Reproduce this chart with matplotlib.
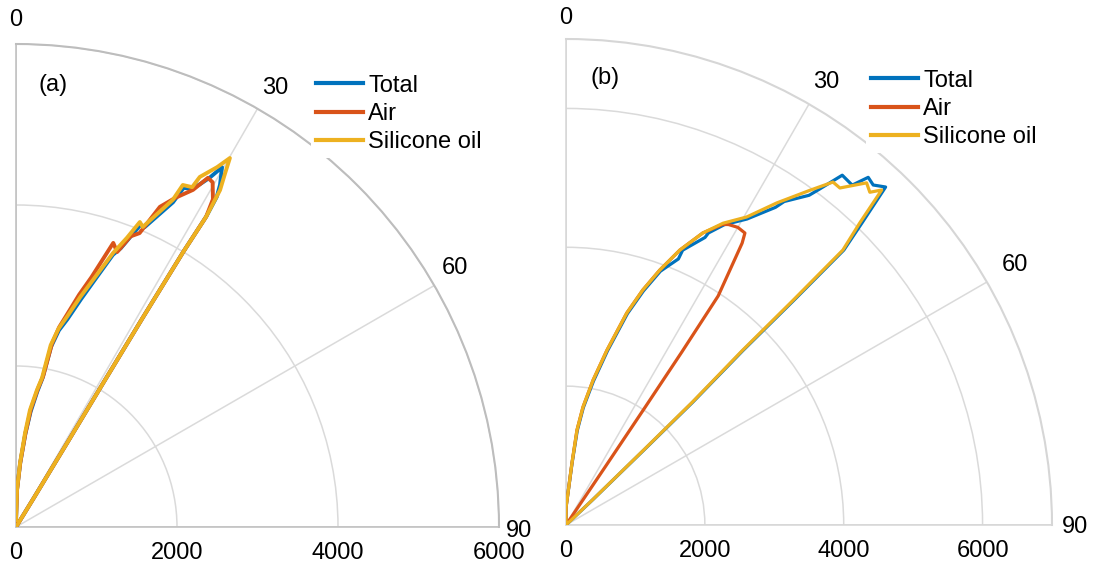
import numpy as np
import matplotlib
matplotlib.use("Agg")
from matplotlib import pyplot as plt

plt.rcParams['font.family'] = ['Liberation Sans', 'DejaVu Sans']

# ---- panel (a): angle in degrees, magnitude ----
a_total_th = [0, 1.5, 3.7, 5.7, 7.2, 8.9, 10.1, 11.0, 12.3, 13.9, 15.9, 17.5, 19.6, 20.6, 22.4, 23.2,
              25.8, 26.3, 27.4, 28.2, 29.0, 29.8, 30.8, 31.3, 31.5, 31.3, 31.2, 31.2, 31.3, 31.5, 32.0]
a_total_r = [80, 460, 790, 1160, 1440, 1700, 1880, 2280, 2500, 2660, 2940, 3190, 3590, 3700, 4060, 4050,
             4480, 4700, 4730, 4830, 4960, 5150, 4950, 4800, 4522, 4000, 3030, 2030, 1220, 430, 0]

a_air_th = [0, 1.6, 3.8, 5.8, 7.2, 9.0, 10.2, 11.1, 12.2, 13.4, 15.2, 16.8, 18.9, 20.2, 21.5, 22.8,
            24.2, 25.8, 27.7, 28.8, 29.7, 31.0, 31.5, 31.3, 31.2, 31.2, 31.3, 31.5, 32.0]
a_air_r = [80, 460, 800, 1180, 1480, 1740, 1900, 2320, 2540, 2700, 2990, 3240, 3730, 3640, 3880, 3960,
           4360, 4540, 4730, 4950, 4930, 4750, 4522, 4000, 3030, 2030, 1220, 430, 0]

a_oil_th = [0, 1.5, 3.6, 5.5, 6.8, 8.7, 9.9, 10.8, 12.1, 13.6, 15.6, 17.3, 19.5, 21.0, 22.1, 22.9,
            25.6, 26.0, 27.4, 27.7, 29.2, 30.1, 30.6, 31.2, 31.5, 31.3, 31.2, 31.2, 31.3, 31.5, 32.0]
a_oil_r = [87, 460, 796, 1173, 1463, 1722, 1880, 2300, 2520, 2684, 2965, 3213, 3610, 3850, 4089, 4046,
           4505, 4727, 4755, 4911, 5121, 5298, 5100, 4893, 4522, 4000, 3030, 2030, 1220, 430, 0]

# ---- panel (b) ----
b_total_th = [0, 0, 5.6, 6.8, 8.4, 10.8, 13.4, 16.2, 18.3, 20.4, 22.9, 23.0, 25.8, 26.0, 27.8,
              30.6, 33.4, 34.0, 36.4, 37.0, 38.3, 40.1, 41.0, 42.1, 43.4, 44.4, 45.3, 45.4,
              45.4, 45.9, 46.1, 46.6, 47.0]
b_total_r = [0, 250, 890, 1370, 1710, 2110, 2580, 3170, 3550, 3900, 4160, 4300, 4600, 4680, 4890,
             5120, 5480, 5620, 5900, 6050, 6420, 6400, 6635, 6600, 6700, 6100, 5630, 4600,
             3580, 2540, 1550, 530, 0]

b_air_th = [0, 0, 5.5, 6.6, 8.2, 10.6, 13.2, 16.0, 18.1, 20.2, 22.5, 25.1, 27.5, 28.4, 30.0,
            31.5, 32.0, 33.6, 33.8, 33.9, 34.0, 34.0, 34.0]
b_air_r = [0, 250, 897, 1377, 1717, 2124, 2588, 3177, 3561, 3913, 4287, 4645, 4880, 4920, 4950,
           4932, 4787, 3960, 3000, 2000, 1000, 300, 0]

b_oil_th = [0, 0, 5.5, 6.6, 8.2, 10.6, 13.2, 16.0, 18.1, 20.2, 22.5, 25.1, 27.5, 30.4, 33.2,
            36.1, 37.9, 39.1, 41.3, 42.4, 43.3, 44.2, 45.2, 45.3, 45.3, 45.8, 46.0, 46.5, 47.0]
b_oil_r = [0, 250, 897, 1377, 1717, 2124, 2588, 3177, 3561, 3913, 4287, 4645, 4901, 5144, 5544,
           5968, 6260, 6255, 6560, 6490, 6630, 6070, 5620, 4600, 3580, 2540, 1550, 530, 0]

names = ["Total", "Air", "Silicone oil"]
colors = ["#0072BD", "#D95319", "#EDB120"]
r_ticks = [0, 2000, 4000, 6000]
theta_ticks = [0, 30, 60, 90]

W, H = 1099, 568
fig = plt.figure(figsize=(W / 100, H / 100), dpi=100)


def panel(ox, oy, rad_px, rmax, series, edge_col, lw, tag, tag_xy, leg_xy, lab_off):
    ax = fig.add_axes([ox / W, (H - oy) / H, rad_px / W, rad_px / H], projection='polar')
    ax.set_theta_zero_location('N')
    ax.set_theta_direction(-1)
    ax.set_thetamin(0)
    ax.set_thetamax(90)
    ax.set_rlim(0, rmax)
    ax.set_rticks([2000, 4000, 6000])
    ax.set_yticklabels([])
    ax.set_xticks(np.deg2rad(theta_ticks))
    ax.set_xticklabels([])
    ax.tick_params(length=0)
    ax.grid(color='#dadada', lw=1.1)
    for s in ax.spines.values():
        s.set_color('#d6d6d6')
        s.set_linewidth(1.1)
    ax.spines['polar'].set_color(edge_col)
    ax.spines['polar'].set_linewidth(1.5)
    ax.spines['start'].set_color(edge_col)
    ax.spines['end'].set_color(edge_col)

    lines = []
    for (th, r), c, n in zip(series, colors, names):
        ln, = ax.plot(np.deg2rad(th), r, color=c, lw=lw, label=n, zorder=3)
        lines.append(ln)

    # angle labels
    for t, off in zip(theta_ticks, lab_off):
        ax.annotate(str(t), xy=(np.deg2rad(t), rmax), xytext=off, textcoords='offset pixels',
                    ha='center', va='center', fontsize=17, annotation_clip=False)
    # magnitude labels
    for rv in r_ticks:
        ax.annotate(str(rv), xy=(np.pi / 2, rv), xytext=(0, -26), textcoords='offset pixels',
                    ha='center', va='center', fontsize=17, annotation_clip=False)

    fig.text(tag_xy[0] / W, 1 - tag_xy[1] / H, tag, ha='center', va='center', fontsize=17)
    leg = ax.legend(lines, names, loc='upper left',
                    bbox_to_anchor=(leg_xy[0] / W, 1 - leg_xy[1] / H),
                    bbox_transform=fig.transFigure, fontsize=17, frameon=True,
                    facecolor='white', edgecolor='none', framealpha=1, fancybox=False,
                    handlelength=2.0, handletextpad=0.22, labelspacing=0.26,
                    borderpad=0.2, borderaxespad=0)
    for h in leg.legend_handles:
        h.set_linewidth(3.0)
    return ax


panel(16, 527, 483, 6000,
      [(a_total_th, a_total_r), (a_air_th, a_air_r), (a_oil_th, a_oil_r)],
      '#bdbdbd', 2.8, "(a)", (53, 85), (311, 70),
      [(0, 24), (18, 21), (21, 18), (20, -4)])

panel(566, 525, 486, 7000,
      [(b_total_th, b_total_r), (b_air_th, b_air_r), (b_oil_th, b_oil_r)],
      '#d6d6d6', 2.3, "(b)", (605, 78), (866, 65),
      [(0, 21), (17, 22), (28, 17), (23, -2)])

fig.savefig("out.png", dpi=100, facecolor='white')
